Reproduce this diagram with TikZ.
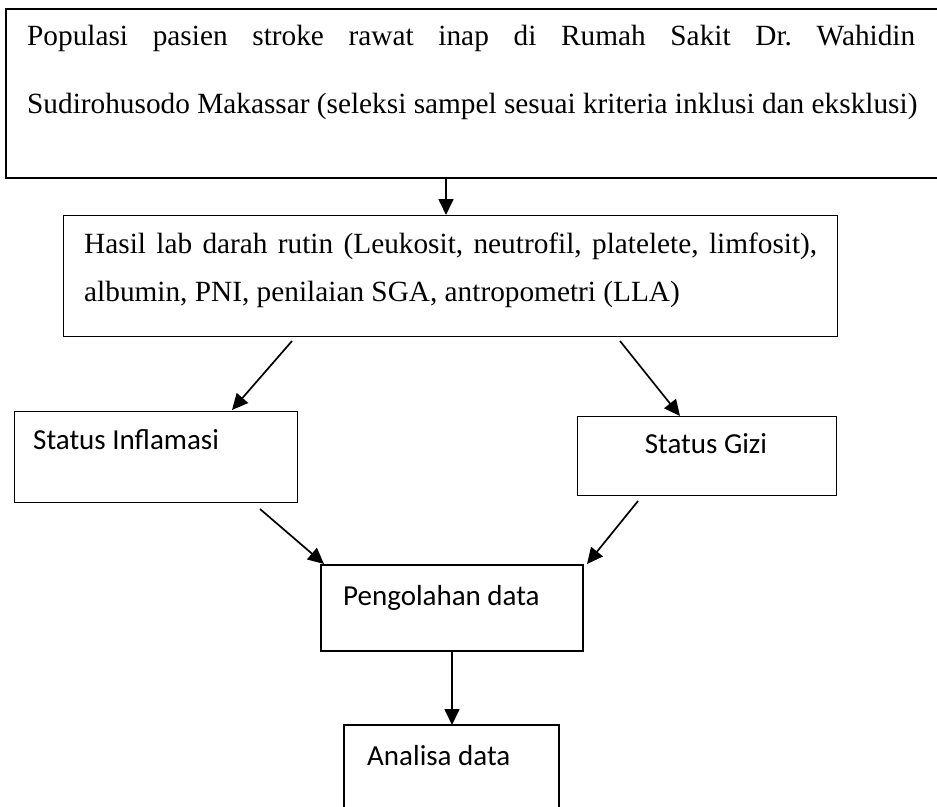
\documentclass[tikz,border=0pt]{standalone}
\usepackage{fontspec}
\setmainfont{Liberation Serif}
\newfontfamily\calib{Carlito}
\usetikzlibrary{arrows.meta}
\frenchspacing
\begin{document}
\begin{tikzpicture}[x=1pt,y=-1pt,
  box/.style={draw=black,line width=1pt,anchor=north west,inner sep=0pt,outer sep=0pt},
  arr/.style={line width=1.7pt,-{Triangle[length=16pt,width=15pt]}},
  serif/.style={font=\frenchspacing\fontsize{29.3}{36}\selectfont,inner sep=0pt,anchor=base west},
  sans/.style={font=\calib\fontsize{29}{35}\selectfont,inner sep=0pt,anchor=base west}]
\useasboundingbox (0,0) rectangle (937,806);
\fill[white] (0,0) rectangle (937,806);
\clip (0,0) rectangle (937,806);
% boxes
\node[box,line width=1.3pt,minimum width=950pt,minimum height=169pt] (pop) at (6,9) {};
\node[box,minimum width=774pt,minimum height=121pt] (lab) at (63,215) {};
\node[box,minimum width=283pt,minimum height=91pt] (infl) at (14,411) {};
\node[box,minimum width=259pt,minimum height=79pt] (gizi) at (577,416) {};
\node[box,line width=1.6pt,minimum width=262pt,minimum height=86pt] (peng) at (321,565) {};
\node[box,line width=1.6pt,minimum width=215pt,minimum height=120pt] (ana) at (344,725) {};
% texts
\node[serif] (popA) at (27,45) {\makebox[888pt][s]{Populasi pasien stroke rawat inap di Rumah Sakit Dr. Wahidin}};
\node[serif] (popB) at (27,113) {Sudirohusodo Makassar (seleksi sampel sesuai kriteria inklusi dan eksklusi)};
\node[serif] (labA) at (84,253) {\makebox[733pt][s]{Hasil lab darah rutin (Leukosit, neutrofil, platelete, limfosit),}};
\node[serif] (labB) at (84,301) {albumin, PNI, penilaian SGA, antropometri (LLA)};
\node[sans] (inflT) at (33,449) {Status Inflamasi};
\node[sans,anchor=base] (giziT) at (706,453) {Status Gizi};
\node[sans] (pengT) at (343,605) {Pengolahan data};
\node[sans] (anaT) at (367,765) {Analisa data};
% connectors
\draw[arr] ([shift={(440,0)}]pop.south west) -- ([shift={(383,0)}]lab.north west);
\draw[arr] ([shift={(229,5)}]lab.south west) -- ([shift={(218,-1)}]infl.north west);
\draw[arr] ([shift={(557,5)}]lab.south west) -- ([shift={(103,0)}]gizi.north west);
\draw[arr] ([shift={(246,7)}]infl.south west) -- ([shift={(3,-1)}]peng.north west);
\draw[arr] ([shift={(61,6)}]gizi.south west) -- ([shift={(4,-1)}]peng.north east);
\draw[arr] ([shift={(131,0)}]peng.south west) -- ([shift={(108,0)}]ana.north west);
\end{tikzpicture}
\end{document}
